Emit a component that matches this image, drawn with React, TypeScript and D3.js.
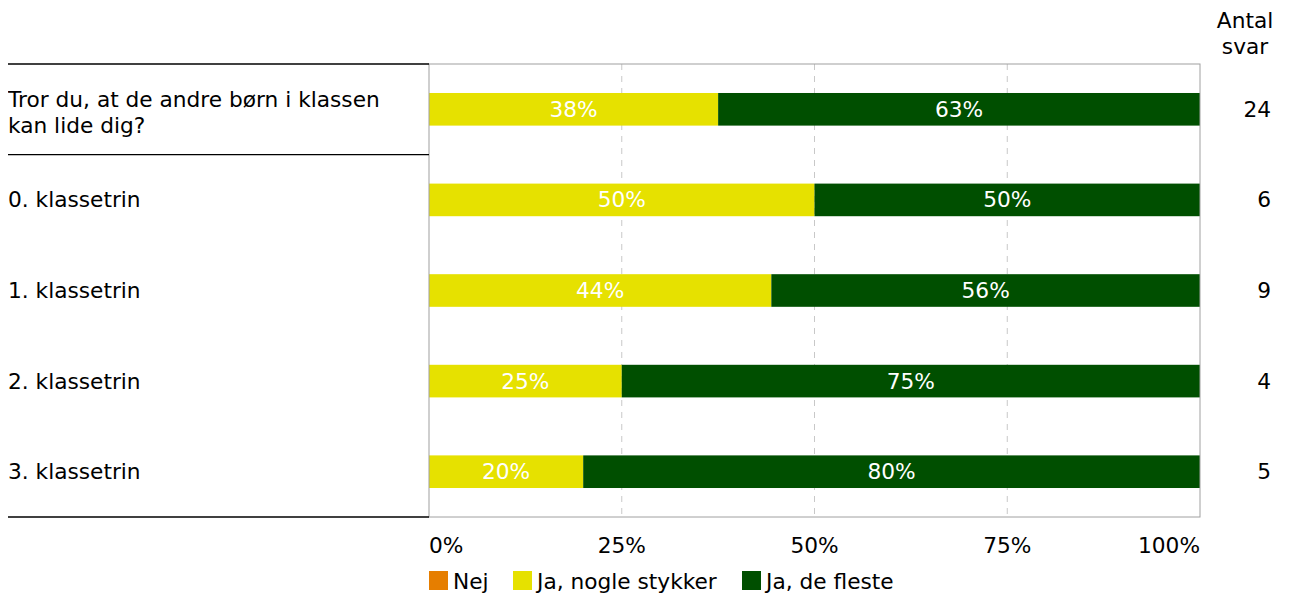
import React, { useEffect, useRef } from 'react';
import * as d3 from 'd3';

const categories = [
  ['Tror du, at de andre børn i klassen', 'kan lide dig?'],
  ['0. klassetrin'],
  ['1. klassetrin'],
  ['2. klassetrin'],
  ['3. klassetrin'],
];
const seriesNames = ['Nej', 'Ja, nogle stykker', 'Ja, de fleste'];
const nej = [0, 0, 0, 0, 0];
const nogle = [37.5, 50, 44.4, 25, 20];
const fleste = [62.5, 50, 55.6, 75, 80];
const antal = [24, 6, 9, 4, 5];
const xTicks = [0, 25, 50, 75, 100];
const colors = ['#e67e00', '#e6e100', '#004f00'];

const W = 1289;
const H = 595;

export default function App() {
  const svgRef = useRef<SVGSVGElement>(null);

  useEffect(() => {
    if (!svgRef.current) return;
    const svg = d3.select(svgRef.current);
    svg.selectAll('*').remove();

    const font = 'DejaVu Sans, Verdana, sans-serif';
    const fs = 21.7;
    const left = 429, right = 1200, top = 64, bottom = 517;

    const x = d3.scaleLinear().domain([0, 100]).range([left, right]);
    const y = d3.scaleBand<number>()
      .domain(d3.range(categories.length))
      .range([top, bottom])
      .paddingInner(0.64)
      .paddingOuter(0.32);
    const row = d3.scaleBand<number>()
      .domain(d3.range(categories.length))
      .range([top, bottom]);

    // grid lines
    svg.selectAll('.grid')
      .data(xTicks.slice(1, -1))
      .enter()
      .append('line')
      .attr('x1', d => x(d)).attr('x2', d => x(d))
      .attr('y1', top).attr('y2', bottom)
      .attr('stroke', '#c8c8c8')
      .attr('stroke-width', 1)
      .attr('stroke-dasharray', '6,6');

    // bars
    const series = [nej, nogle, fleste];
    categories.forEach((_, i) => {
      let acc = 0;
      series.forEach((s, k) => {
        const v = s[i];
        if (v > 0) {
          svg.append('rect')
            .attr('x', x(acc))
            .attr('y', y(i)!)
            .attr('width', x(acc + v) - x(acc))
            .attr('height', y.bandwidth())
            .attr('fill', colors[k]);
          svg.append('text')
            .attr('x', (x(acc) + x(acc + v)) / 2)
            .attr('y', y(i)! + y.bandwidth() / 2)
            .attr('dy', '0.35em')
            .attr('text-anchor', 'middle')
            .attr('fill', '#ffffff')
            .attr('font-family', font)
            .attr('font-size', fs)
            .text(`${Math.round(v)}%`);
        }
        acc += v;
      });
    });

    // plot frame
    svg.append('rect')
      .attr('x', left).attr('y', top)
      .attr('width', right - left).attr('height', bottom - top)
      .attr('fill', 'none')
      .attr('stroke', '#a0a0a0')
      .attr('stroke-width', 1);

    // left separators
    [top, row(1)!, bottom].forEach(yy => {
      svg.append('line')
        .attr('x1', 8).attr('x2', left)
        .attr('y1', yy).attr('y2', yy)
        .attr('stroke', '#000')
        .attr('stroke-width', 1.3);
    });

    // category labels
    categories.forEach((lines, i) => {
      const cy = row(i)! + row.bandwidth() / 2;
      const lh = 26;
      const off = lines.length > 1 ? 3 : 0;
      lines.forEach((ln, j) => {
        svg.append('text')
          .attr('x', 8)
          .attr('y', cy + off + (j - (lines.length - 1) / 2) * lh)
          .attr('dy', '0.35em')
          .attr('font-family', font)
          .attr('font-size', fs)
          .attr('fill', '#000')
          .text(ln);
      });
      svg.append('text')
        .attr('x', 1271)
        .attr('y', cy)
        .attr('dy', '0.35em')
        .attr('text-anchor', 'end')
        .attr('font-family', font)
        .attr('font-size', fs)
        .attr('fill', '#000')
        .text(antal[i]);
    });

    // header
    ['Antal', 'svar'].forEach((t, j) => {
      svg.append('text')
        .attr('x', 1245)
        .attr('y', 20 + j * 26)
        .attr('dy', '0.35em')
        .attr('text-anchor', 'middle')
        .attr('font-family', font)
        .attr('font-size', fs)
        .attr('fill', '#000')
        .text(t);
    });

    // x tick labels
    svg.selectAll('.tick')
      .data(xTicks)
      .enter()
      .append('text')
      .attr('x', d => x(d))
      .attr('y', 545)
      .attr('dy', '0.35em')
      .attr('text-anchor', d => (d === 0 ? 'start' : d === 100 ? 'end' : 'middle'))
      .attr('font-family', font)
      .attr('font-size', fs)
      .attr('fill', '#000')
      .text(d => `${d}%`);

    // legend
    const legendX = [429, 513, 742];
    seriesNames.forEach((name, k) => {
      svg.append('rect')
        .attr('x', legendX[k]).attr('y', 571)
        .attr('width', 19).attr('height', 19)
        .attr('fill', colors[k]);
      svg.append('text')
        .attr('x', legendX[k] + 24)
        .attr('y', 581)
        .attr('dy', '0.35em')
        .attr('font-family', font)
        .attr('font-size', fs)
        .attr('fill', '#000')
        .text(name);
    });
  }, []);

  return (
    <svg ref={svgRef} width={W} height={H} style={{ display: 'block', margin: '-8px 0 0 -8px' }} />
  );
}
